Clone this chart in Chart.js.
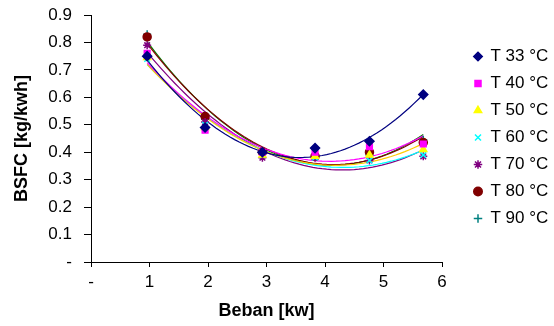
<!DOCTYPE html>
<html>
<head>
<meta charset="utf-8">
<script src="https://cdn.jsdelivr.net/npm/chart.js@4"></script>
<style>
  html, body { margin: 0; padding: 0; background: #fff; }
  #wrap { width: 554px; height: 326px; }
</style>
</head>
<body>
<div id="wrap"><canvas id="c" width="554" height="326"></canvas></div>
<script>
// load in kW (x values)
const loadKw = [0.96, 1.95, 2.93, 3.83, 4.76, 5.68];

// BSFC [kg/kwh] per temperature
const t33 = [0.75, 0.49, 0.40, 0.415, 0.44, 0.61];
const t40 = [0.76, 0.48, 0.40, 0.40, 0.42, 0.43];
const t50 = [0.745, 0.49, 0.39, 0.385, 0.39, 0.41];
const t60 = [0.74, 0.50, 0.39, 0.38, 0.37, 0.39];
const t70 = [0.79, 0.51, 0.38, 0.38, 0.37, 0.385];
const t80 = [0.82, 0.53, 0.40, 0.385, 0.40, 0.435];
const t90 = [0.83, 0.52, 0.40, 0.39, 0.39, 0.445];

const seriesLabels = ["T 33 °C", "T 40 °C", "T 50 °C", "T 60 °C", "T 70 °C", "T 80 °C", "T 90 °C"];
const yTicks = [0, 0.1, 0.2, 0.3, 0.4, 0.5, 0.6, 0.7, 0.8, 0.9];
const xTicks = [0, 1, 2, 3, 4, 5, 6];

const series = [t33, t40, t50, t60, t70, t80, t90];
const markerColors = ["#000080", "#FF00FF", "#FFFF00", "#00FFFF", "#800080", "#800000", "#008080"];
const trendColors = ["#000080", "#FF00FF", "#FFCC00", "#00FFFF", "#800080", "#800000", "#008000"];
const markers = ["rectRot", "rect", "triangle", "crossRot", "star", "circle", "cross"];

// 2nd order polynomial trendline (least squares), like the spreadsheet
function polyFit(xs, ys) {
  let s = [0, 0, 0, 0, 0], t = [0, 0, 0];
  xs.forEach((x, i) => {
    for (let k = 0; k < 5; k++) s[k] += Math.pow(x, k);
    for (let k = 0; k < 3; k++) t[k] += ys[i] * Math.pow(x, k);
  });
  const m = [[s[0], s[1], s[2], t[0]], [s[1], s[2], s[3], t[1]], [s[2], s[3], s[4], t[2]]];
  for (let i = 0; i < 3; i++) {
    for (let j = i + 1; j < 3; j++) {
      const f = m[j][i] / m[i][i];
      for (let k = i; k < 4; k++) m[j][k] -= f * m[i][k];
    }
  }
  const c = [0, 0, 0];
  for (let i = 2; i >= 0; i--) {
    let v = m[i][3];
    for (let k = i + 1; k < 3; k++) v -= m[i][k] * c[k];
    c[i] = v / m[i][i];
  }
  return c;
}

function trendPoints(ys) {
  const c = polyFit(loadKw, ys);
  const x0 = loadKw[0], x1 = loadKw[loadKw.length - 1];
  const pts = [];
  for (let i = 0; i <= 60; i++) {
    const x = x0 + (x1 - x0) * i / 60;
    pts.push({ x: x, y: c[0] + c[1] * x + c[2] * x * x });
  }
  return pts;
}

const datasets = [];
series.forEach((ys, i) => {
  datasets.push({
    label: seriesLabels[i],
    data: ys.map((y, j) => ({ x: loadKw[j], y: y })),
    showLine: false,
    pointStyle: markers[i],
    pointRadius: markers[i] === "rectRot" ? 4.5 : 4,
    backgroundColor: markerColors[i],
    borderColor: markerColors[i],
    borderWidth: 1.5,
  });
});
series.forEach((ys, i) => {
  datasets.push({
    label: "",
    data: trendPoints(ys),
    showLine: true,
    pointRadius: 0,
    borderColor: trendColors[i],
    borderWidth: 1.2,
    tension: 0,
    isTrend: true,
  });
});

const font = { family: "'Liberation Sans', Arial, sans-serif", size: 17 };

// nudge the legend block to where the original sits
const legendShift = {
  id: "legendShift",
  afterLayout(chart) {
    const lg = chart.legend;
    lg.left += 22; lg.right += 22;
    lg.top -= 1; lg.bottom -= 1;
  },
};

new Chart(document.getElementById("c"), {
  type: "scatter",
  data: { datasets: datasets },
  plugins: [legendShift],
  options: {
    responsive: false,
    animation: false,
    layout: { padding: { top: 15, left: 0, right: 0, bottom: 0 } },
    plugins: {
      tooltip: { enabled: false },
      legend: {
        position: "right",
        fullSize: false,
        labels: {
          usePointStyle: true,
          boxWidth: 8,
          boxHeight: 6,
          padding: 10,
          color: "#000",
          font: font,
          filter: (item, data) => !data.datasets[item.datasetIndex].isTrend,
        },
      },
    },
    scales: {
      x: {
        type: "linear",
        min: 0,
        max: 6,
        afterBuildTicks: (s) => { s.ticks = xTicks.map((v) => ({ value: v })); },
        afterFit: (s) => { s.height = 64; s.paddingRight = 112; },
        grid: { drawOnChartArea: false, drawTicks: true, tickLength: 5, color: "#000" },
        border: { display: true, color: "#000" },
        ticks: {
          color: "#000",
          font: font,
          padding: 5,
          callback: (v) => (v === 0 ? "-" : String(v)),
        },
        title: {
          display: true,
          text: "Beban [kw]",
          color: "#000",
          font: { family: font.family, size: 18, weight: "bold" },
          padding: { top: 0, bottom: 4 },
        },
      },
      y: {
        type: "linear",
        min: 0,
        max: 0.9,
        afterBuildTicks: (s) => { s.ticks = yTicks.map((v) => ({ value: v })); },
        afterFit: (s) => { s.width = 91; s.paddingTop = 0; },
        grid: { drawOnChartArea: false, drawTicks: true, tickLength: 7, color: "#000" },
        border: { display: true, color: "#000" },
        ticks: {
          color: "#000",
          font: font,
          padding: 12,
          callback: (v) => (v === 0 ? "-" : v.toFixed(1)),
        },
        title: {
          display: true,
          text: "BSFC [kg/kwh]",
          color: "#000",
          font: { family: font.family, size: 18, weight: "bold" },
          padding: { top: 11, bottom: 4 },
        },
      },
    },
  },
});
</script>
</body>
</html>
